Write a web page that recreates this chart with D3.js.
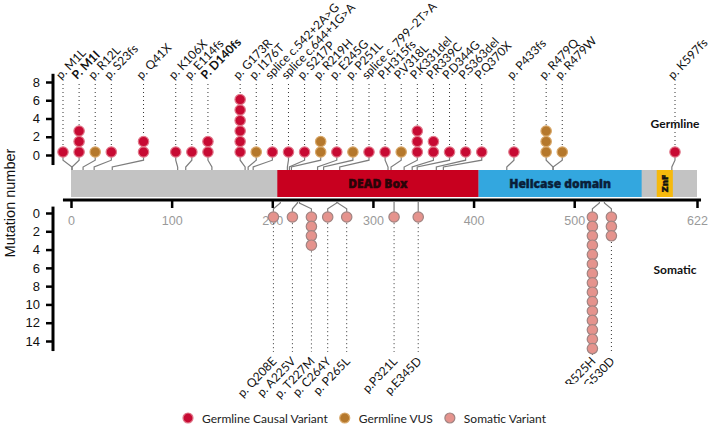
<!DOCTYPE html>
<html><head><meta charset="utf-8">
<script src="https://cdn.jsdelivr.net/npm/d3@7"></script>
<style>body{margin:0;background:#fff}svg{display:block;font-family:Lato,"Open Sans",sans-serif}</style>
</head><body><svg id="c" width="711" height="429"></svg>
<script>
// ---------- data ----------
const proteinLength = 622;
const xTickValues = [0, 100, 200, 300, 400, 500, 622];
const topTickValues = [0, 2, 4, 6, 8];
const bottomTickValues = [0, 2, 4, 6, 8, 10, 12, 14];

const domainNames = ["DEAD Box", "Helicase domain", "ZnF"];
const domainStart = [205, 405, 582];
const domainEnd = [405, 567, 598];

const germlineLabels = ["p. M1L", "P. M1I", "p. R12L", "p. S23fs", "p. Q41X", "p. K106X", "p. E114fs", "P. D140fs",
  "p. G173R", "p. I176T", "splice c.542+2A>G", "splice c.644+1G>A", "p. S217P", "p. R219H", "p. E245G", "p. P251L",
  "splice c. 799\u20132T>A", "P.H315fs", "P.V318L", "P.K331del", "P.R339C", "P.D344G", "P.S363del", "P.Q370X",
  "p. P433fs", "p. R479Q", "p. R479W", "p. K597fs"];
const germlinePosition = [1, 1, 12, 23, 41, 106, 114, 140, 173, 176, 181, 215, 217, 219, 245, 251,
  267, 315, 318, 331, 339, 344, 363, 370, 433, 479, 479, 597];
const germlineCount = [1, 3, 1, 1, 2, 1, 1, 2, 6, 1, 1, 1, 1, 2, 1, 1, 1, 1, 1, 3, 2, 1, 1, 1, 1, 3, 1, 1];
const germlineType = ["causal", "causal", "vus", "causal", "causal", "causal", "causal", "causal",
  "causal", "vus", "causal", "causal", "causal", "vus", "causal", "vus",
  "causal", "causal", "vus", "causal", "causal", "causal", "causal", "causal",
  "causal", "vus", "vus", "causal"];
// label column (slot) each germline lollipop occupies in the figure
const germlineSlot = [0, 1, 2, 3, 5, 7, 8, 9, 11, 12, 13, 14, 15, 16, 17, 18, 19, 20, 21, 22, 23, 24, 25, 26, 28, 30, 31, 38];
const highlightedLabels = ["P. M1I", "P. D140fs"];

const somaticLabels = ["p. Q208E", "p. A225V", "p. T227M", "p. C264Y", "p. P265L", "p.P321L", "p.E345D", "p. R525H", "p. G530D"];
const somaticPosition = [208, 225, 227, 264, 265, 321, 345, 525, 530];
const somaticCount = [1, 1, 4, 1, 1, 1, 1, 15, 3];

const legendLabels = ["Germline Causal Variant", "Germline VUS", "Somatic Variant"];
const legendTypes = ["causal", "vus", "somatic"];

// ---------- styles ----------
const fillColor = {causal: "#c70a33", vus: "#b5782c", somatic: "#e5938d"};
const strokeColor = {causal: "#e0788a", vus: "#d8a86a", somatic: "#a08482"};
const domainColor = {"DEAD Box": "#c8001f", "Helicase domain": "#33a7df", "ZnF": "#f6b90c"};
const domainTextColor = {"DEAD Box": "#2a0408", "Helicase domain": "#0a1f3a", "ZnF": "#111"};

const svg = d3.select("#c");
const x = d3.scaleLinear().domain([0, proteinLength]).range([71, 697]);
const slotX = d3.scaleLinear().domain([0, 38]).range([63, 675]);
const yTop = d3.scaleLinear().domain([0, 8]).range([155, 82]);
const yBot = d3.scaleLinear().domain([0, 14]).range([213, 341]);
const R = 5.2, topStep = 10.5, botStep = 9.4;
const barTop = 170, barBot = 197, axisY = 200;

// ---------- y axis title ----------
svg.append("text").attr("transform", "translate(15,203) rotate(-90)")
  .attr("text-anchor", "middle").style("font-family", "'Liberation Sans',Arial,sans-serif")
  .style("font-size", "14.5px").attr("fill", "#111").text("Mutation number");

// ---------- y axes ----------
function styleYAxis(g) {
  g.select(".domain").remove();
  g.selectAll(".tick line").attr("stroke", "#000").attr("stroke-width", 2.5);
  g.selectAll(".tick text").style("font-family", "'Liberation Sans',Arial,sans-serif").style("font-size", "13px").attr("fill", "#111");
}
const gTop = svg.append("g").attr("transform", "translate(53,0)")
  .call(d3.axisLeft(yTop).tickValues(topTickValues).tickSize(7).tickPadding(6)).call(styleYAxis);
gTop.append("line").attr("x1", 0).attr("x2", 0).attr("y1", yTop(8.9)).attr("y2", yTop(-1.1)).attr("stroke", "#000").attr("stroke-width", 3);
const gBot = svg.append("g").attr("transform", "translate(53,0)")
  .call(d3.axisLeft(yBot).tickValues(bottomTickValues).tickSize(7).tickPadding(6)).call(styleYAxis);
gBot.append("line").attr("x1", 0).attr("x2", 0).attr("y1", yBot(-0.7)).attr("y2", yBot(15.1)).attr("stroke", "#000").attr("stroke-width", 3);

// ---------- protein bar ----------
svg.append("rect").attr("x", x(0)).attr("y", barTop).attr("width", x(proteinLength) - x(0)).attr("height", barBot - barTop).attr("fill", "#c3c3c3");
domainNames.forEach((n, i) => {
  svg.append("rect").attr("x", x(domainStart[i])).attr("y", barTop).attr("width", x(domainEnd[i]) - x(domainStart[i]))
    .attr("height", barBot - barTop).attr("fill", domainColor[n]);
  const cx = (x(domainStart[i]) + x(domainEnd[i])) / 2, cy = (barTop + barBot) / 2;
  const t = svg.append("text").attr("text-anchor", "middle").attr("dominant-baseline", "central")
    .style("font-family", "'Open Sans',Lato,sans-serif").style("font-weight", "800")
    .attr("fill", domainTextColor[n]).attr("stroke", domainTextColor[n]).attr("stroke-width", 0.4).text(n);
  if (n === "ZnF") t.attr("transform", `translate(${cx},${cy}) rotate(-90)`).style("font-size", "9.5px");
  else t.attr("x", cx).attr("y", cy).style("font-size", "12px");
});

// ---------- x axis ----------
const gx = svg.append("g").attr("transform", `translate(0,${axisY})`)
  .call(d3.axisBottom(x).tickValues(xTickValues).tickSize(8).tickPadding(8));
gx.select(".domain").remove();
gx.selectAll(".tick line").attr("stroke", "#000").attr("stroke-width", 2.5);
gx.selectAll(".tick text").style("font-size", "12.5px").attr("fill", "#9a9a9a");
gx.append("line").attr("x1", x(-8)).attr("x2", x(proteinLength + 4)).attr("y1", 0).attr("y2", 0).attr("stroke", "#000").attr("stroke-width", 3);

// ---------- germline lollipops ----------
const gG = svg.append("g");
germlineLabels.forEach((lab, i) => {
  const xd = slotX(germlineSlot[i]), xa = x(germlinePosition[i]);
  const base = yTop(0) - 3;
  gG.append("path").attr("d", `M${xd},${base + R}L${xd},${base + R + 3}L${xa},${barTop - 3}L${xa},${barTop}`)
    .attr("fill", "none").attr("stroke", "#7d7d7d").attr("stroke-width", 1.2);
  const topCy = base - (germlineCount[i] - 1) * topStep;
  gG.append("line").attr("x1", xd).attr("x2", xd).attr("y1", 84).attr("y2", topCy - R - 1)
    .attr("stroke", "#333").attr("stroke-width", 1).attr("stroke-dasharray", "1,3");
  d3.range(germlineCount[i]).forEach(k => {
    gG.append("circle").attr("cx", xd).attr("cy", base - k * topStep).attr("r", R)
      .attr("fill", fillColor[germlineType[i]]).attr("stroke", strokeColor[germlineType[i]]).attr("stroke-width", 1.2);
  });
  gG.append("text").attr("transform", `translate(${xd - 2},80) rotate(-46)`)
    .style("font-size", "12px").attr("fill", "#111")
    .style("font-weight", highlightedLabels.includes(lab) ? "bold" : "normal").text(lab);
});

// ---------- somatic lollipops (spread clusters around their positions) ----------
const minGap = 19;
const somX = somaticPosition.map(p => x(p));
let clusters = [];
somX.forEach((v, i) => {
  const last = clusters[clusters.length - 1];
  if (last && v - somX[last[last.length - 1]] < minGap) last.push(i); else clusters.push([i]);
});
const somDisp = [];
clusters.forEach(c => {
  const mean = d3.mean(c, i => somX[i]);
  c.forEach((i, j) => somDisp[i] = mean + (j - (c.length - 1) / 2) * minGap);
});
const gS = svg.append("g");
somaticLabels.forEach((lab, i) => {
  const xd = somDisp[i], xa = somX[i];
  const base = yBot(0) + 4;
  gS.append("path").attr("d", `M${xa},${axisY + 1}L${xa},${axisY + 3}L${xd},${base - R - 3}L${xd},${base - R}`)
    .attr("fill", "none").attr("stroke", "#7d7d7d").attr("stroke-width", 1.2);
  const lastCy = base + (somaticCount[i] - 1) * botStep;
  gS.append("line").attr("x1", xd).attr("x2", xd).attr("y1", lastCy + R + 1).attr("y2", 352)
    .attr("stroke", "#333").attr("stroke-width", 1).attr("stroke-dasharray", "1,3");
  d3.range(somaticCount[i]).forEach(k => {
    gS.append("circle").attr("cx", xd).attr("cy", base + k * botStep).attr("r", R)
      .attr("fill", fillColor.somatic).attr("stroke", strokeColor.somatic).attr("stroke-width", 1.2);
  });
  gS.append("text").attr("transform", `translate(${xd + 4},362) rotate(-46)`)
    .attr("text-anchor", "end").style("font-size", "12px").attr("fill", "#111").text(lab);
});
// white band that hides the lower part of the rightmost somatic labels in the figure
svg.append("rect").attr("x", 545).attr("y", 384).attr("width", 166).attr("height", 22).attr("fill", "#fff");

// ---------- section labels ----------
svg.append("text").attr("x", slotX(38)).attr("y", 128).attr("text-anchor", "middle")
  .style("font-weight", "bold").style("font-size", "12px").attr("fill", "#111").text("Germline");
svg.append("text").attr("x", slotX(38)).attr("y", 274).attr("text-anchor", "middle")
  .style("font-weight", "bold").style("font-size", "12px").attr("fill", "#111").text("Somatic");

// ---------- legend ----------
const lg = svg.append("g").attr("transform", "translate(188,418)");
let lx = 0;
legendLabels.forEach((lab, i) => {
  lg.append("circle").attr("cx", lx).attr("cy", 0).attr("r", 5)
    .attr("fill", fillColor[legendTypes[i]]).attr("stroke", strokeColor[legendTypes[i]]).attr("stroke-width", 1.2);
  const t = lg.append("text").attr("x", lx + 14).attr("y", 0).attr("dominant-baseline", "central")
    .style("font-size", "12px").attr("fill", "#222").text(lab);
  lx += 14 + t.node().getComputedTextLength() + 17;
});
</script></body></html>
